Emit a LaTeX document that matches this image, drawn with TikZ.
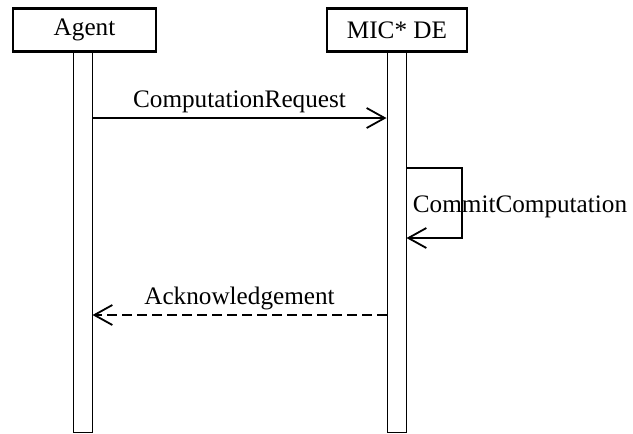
\documentclass[tikz,border=0pt]{standalone}
\usepackage{fontspec}
\setmainfont{Liberation Serif}
\usepackage{tikz}
\usetikzlibrary{arrows.meta, positioning}
\tikzstyle{actor} = [rectangle, draw=black, line width=1.2pt, minimum width=71.5pt, minimum height=21.5pt, inner sep=0]
\tikzstyle{lifeline} = [rectangle, draw=black, line width=0.5pt, minimum width=9.5pt, minimum height=190.5pt, inner sep=0]
\tikzstyle{message} = [line width=0.9pt, -{Straight Barb[length=9pt, width=10pt, line width=0.9pt]}]
\tikzstyle{reply} = [message, dash pattern=on 5pt off 2.5pt]

\begin{document}
\begin{tikzpicture}[x=0.5pt, y=-0.5pt, font=\fontsize{12.6}{15}\selectfont]
				\useasboundingbox (0, 0) rectangle (633, 434);

				\node (Agent) [actor] at (84.5, 30) {Agent};
				\node (DE) [actor, minimum width=70pt] at (397, 30) {MIC* DE};

				\node (AgentLine) [lifeline, anchor=north] at (82.5, 51) {};
				\node (DELine) [lifeline, anchor=north] at (396.5, 51) {};

				\draw[message] (AgentLine.east |- 0,118) -- node[above, inner sep=2pt] (ReqLabel) {ComputationRequest} (DELine.west |- 0,118);

				\coordinate (LoopTop) at (462, 168);
				\coordinate (LoopBottom) at (462, 238);
				\draw[message] (DELine.east |- LoopTop) -- (LoopTop) -- (LoopBottom) -- (DELine.east |- LoopBottom);
				\node (CommitLabel) [anchor=base] at (520, 212) {CommitComputation};

				\draw[reply] (DELine.west |- 0,315) -- node[above, inner sep=2pt] (AckLabel) {Acknowledgement} (AgentLine.east |- 0,315);
			\end{tikzpicture}
\end{document}
